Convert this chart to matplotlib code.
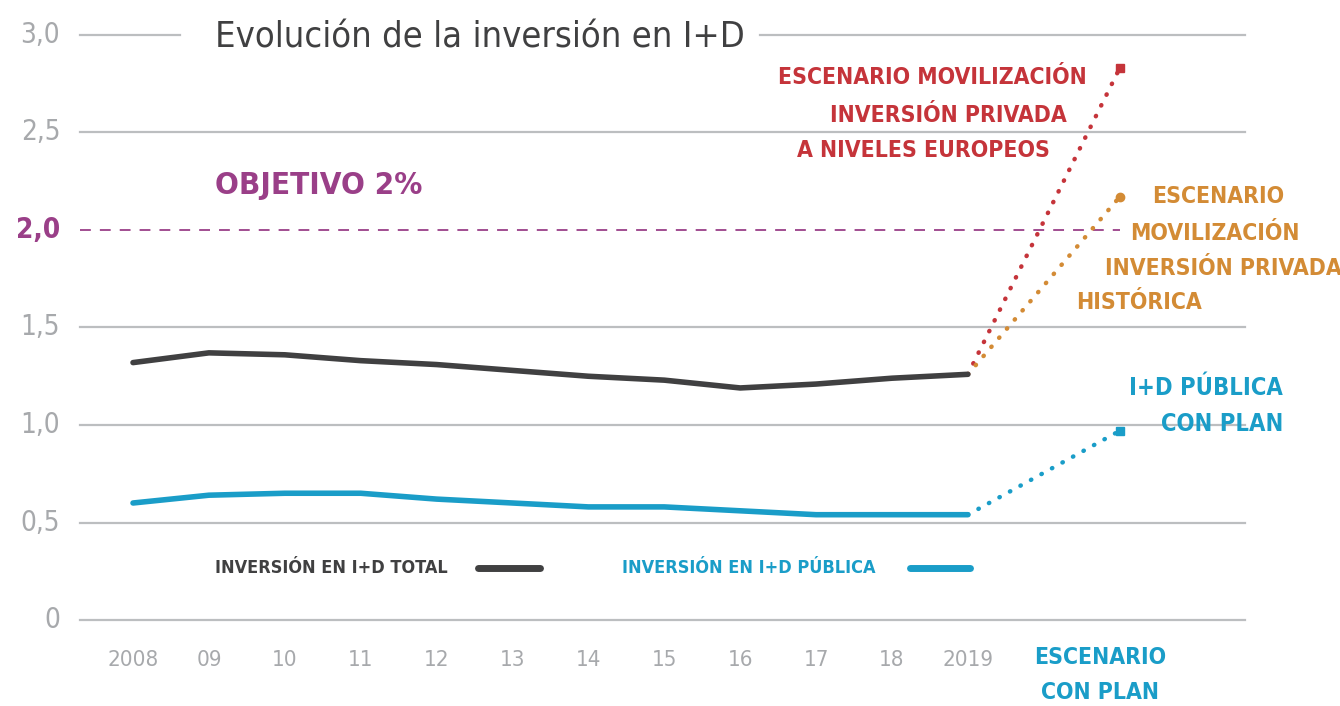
import numpy as np
import matplotlib.pyplot as plt

plt.rcParams['font.family'] = ['DejaVu Sans']
plt.rcParams['font.stretch'] = 'condensed'

years = ['2008', '09', '10', '11', '12', '13', '14', '15', '16', '17', '18', '2019']
total = [1.32, 1.37, 1.36, 1.33, 1.31, 1.28, 1.25, 1.23, 1.19, 1.21, 1.24, 1.26]
publica = [0.60, 0.64, 0.65, 0.65, 0.62, 0.60, 0.58, 0.58, 0.56, 0.54, 0.54, 0.54]

# scenario end values (plotted one step beyond 2019 + 1)
esc_europeo = 2.83
esc_historico = 2.17
esc_publica = 0.97
objetivo = 2.0
yticks = [0, 0.5, 1.0, 1.5, 2.0, 2.5, 3.0]
ytick_labels = ['0', '0,5', '1,0', '1,5', '2,0', '2,5', '3,0']

c_grid = '#bcbec0'
c_tick = '#a7a9ac'
c_total = '#404041'
c_pub = '#1a9dc8'
c_red = '#c5343a'
c_orange = '#d38b35'
c_purple = '#9a3f88'

fig = plt.figure(figsize=(13.4, 7.06), dpi=100)
ax = fig.add_axes([0, 0, 1, 1])
ax.axis('off')
ax.set_xlim(-133 / 75.9, (1340 - 133) / 75.9)
ax.set_ylim(-86 / 195, (706 - 86) / 195)

x = np.arange(len(years))
x_esc = len(years) + 1

# grid
gx0, gx1 = -0.70, 14.65
for v in yticks:
    if v == 3.0:
        ax.plot([gx0, 0.62], [v, v], color=c_grid, lw=1.6, zorder=1)
        ax.plot([8.26, gx1], [v, v], color=c_grid, lw=1.6, zorder=1)
    elif v == objetivo:
        ax.plot([gx0, 13.0], [v, v], color=c_purple, lw=1.3, ls=(0, (6, 5)), zorder=1)
    else:
        ax.plot([gx0, gx1], [v, v], color=c_grid, lw=1.6, zorder=1)

for v, lab in zip(yticks, ytick_labels):
    col = c_purple if v == objetivo else c_tick
    ax.text(-0.96, v, lab, ha='right', va='center', fontsize=20, color=col,
            fontweight='bold' if v == objetivo else 'normal')

for xi, lab in zip(x, years):
    ax.text(xi, -0.205, lab, ha='center', va='center', fontsize=16, color=c_tick)

ax.text(12.74, -0.19, 'ESCENARIO', ha='center', va='center', fontsize=16.5,
        color=c_pub, fontweight='bold')
ax.text(12.74, -0.37, 'CON PLAN', ha='center', va='center', fontsize=16.5,
        color=c_pub, fontweight='bold')

# series
ax.plot(x, total, color=c_total, lw=4, solid_capstyle='round', zorder=3)
ax.plot(x, publica, color=c_pub, lw=4, solid_capstyle='round', zorder=3)

dots = (0, (0.1, 2.6))
ax.plot([x[-1], x_esc], [total[-1], esc_europeo], color=c_red, lw=3.2,
        ls=dots, dash_capstyle='round', zorder=2)
ax.plot([x_esc], [esc_europeo], marker='s', ms=6, color=c_red, zorder=2)
ax.plot([x[-1], x_esc], [total[-1], esc_historico], color=c_orange, lw=3.2,
        ls=dots, dash_capstyle='round', zorder=2)
ax.plot([x_esc], [esc_historico], marker='o', ms=6, color=c_orange, zorder=2)
ax.plot([x[-1], x_esc], [publica[-1], esc_publica], color=c_pub, lw=3.2,
        ls=dots, dash_capstyle='round', zorder=2)
ax.plot([x_esc], [esc_publica], marker='s', ms=6, color=c_pub, zorder=2)

# texts
ax.text(1.08, 2.985, 'Evolución de la inversión en I+D', ha='left', va='center',
        fontsize=26, color=c_total)
ax.text(1.08, 2.23, 'OBJETIVO 2%', ha='left', va='center', fontsize=22.5,
        color=c_purple, fontweight='bold')

for xt, yt, s in [(8.50, 2.78, 'ESCENARIO MOVILIZACIÓN'),
                  (9.18, 2.585, 'INVERSIÓN PRIVADA'),
                  (8.75, 2.41, 'A NIVELES EUROPEOS')]:
    ax.text(xt, yt, s, ha='left', va='center', fontsize=16.5, color=c_red, fontweight='bold')

for xt, yt, s in [(13.43, 2.17, 'ESCENARIO'),
                  (13.14, 1.98, 'MOVILIZACIÓN'),
                  (12.81, 1.805, 'INVERSIÓN PRIVADA'),
                  (12.42, 1.626, 'HISTÓRICA')]:
    ax.text(xt, yt, s, ha='left', va='center', fontsize=16.5, color=c_orange, fontweight='bold')

ax.text(15.15, 1.19, 'I+D PÚBLICA', ha='right', va='center', fontsize=17,
        color=c_pub, fontweight='bold')
ax.text(15.15, 1.005, 'CON PLAN', ha='right', va='center', fontsize=17,
        color=c_pub, fontweight='bold')

# legend
ax.text(1.08, 0.267, 'INVERSIÓN EN I+D TOTAL', ha='left', va='center', fontsize=13,
        color=c_total, fontweight='bold')
ax.plot([4.55, 5.36], [0.267, 0.267], color=c_total, lw=5, solid_capstyle='round')
ax.text(6.44, 0.267, 'INVERSIÓN EN I+D PÚBLICA', ha='left', va='center', fontsize=13,
        color=c_pub, fontweight='bold')
ax.plot([10.24, 11.03], [0.267, 0.267], color=c_pub, lw=5, solid_capstyle='round')

fig.savefig('out.png', dpi=100)
